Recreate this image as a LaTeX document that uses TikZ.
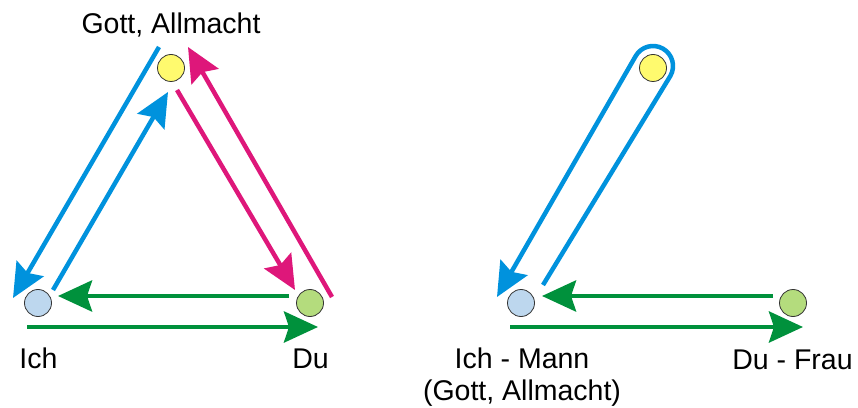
\documentclass[tikz,border=0pt]{standalone}
\usepackage{fontspec}
\setmainfont{Liberation Sans}
\usepackage{tikz}
\usetikzlibrary{arrows.meta,calc}
\usepackage{xcolor}
\definecolor{gottgelb}{RGB}{255,250,110}
\definecolor{ichblau}{RGB}{189,215,238}
\definecolor{dugruen}{RGB}{180,220,125}
\definecolor{pfeilblau}{RGB}{0,146,221}
\definecolor{pfeilrot}{RGB}{222,23,122}
\definecolor{pfeilgruen}{RGB}{0,145,60}
\tikzset{>={Stealth[length=34pt,width=31pt,inset=5pt]}}

\begin{document}
\begin{tikzpicture}[x=1pt, y=1pt]
                % left: triangle, right: Ich - Mann takes the place of Gott
                \tikzstyle{person}=[circle, draw=black!80, line width=0.8pt, minimum size=27pt, inner sep=0pt]
                \tikzstyle{lbl}=[font=\fontsize{28.5}{31.5}\selectfont, inner sep=0pt, anchor=base, align=center]
                \tikzstyle{blu}=[pfeilblau, line width=4.5pt, ->]
                \tikzstyle{rot}=[pfeilrot, line width=4.5pt, ->]
                \tikzstyle{gru}=[pfeilgruen, line width=4.5pt, ->]
                \useasboundingbox (0,0) rectangle (858,407);

                % left picture
                \node[person, fill=gottgelb] (G1) at (171, 339) {};
                \node[person, fill=ichblau] (I1) at (38, 104) {};
                \node[person, fill=dugruen] (D1) at (310, 104) {};
                \node[lbl] (G1txt) at (171, 373) {Gott, Allmacht};
                \node[lbl] (I1txt) at (38.5, 39) {Ich};
                \node[lbl] (D1txt) at (310.5, 39) {Du};

                \coordinate (bo1) at (159, 360);
                \coordinate (bo2) at (13, 109);
                \coordinate (bi1) at (53, 117);
                \coordinate (bi2) at (168, 315);
                \coordinate (ri1) at (177, 317);
                \coordinate (ri2) at (295, 117);
                \coordinate (ro1) at (332, 110);
                \coordinate (ro2) at (188, 360);
                \coordinate (gu1) at (289, 111);
                \coordinate (gu2) at (58, 111);
                \coordinate (gl1) at (27, 80);
                \coordinate (gl2) at (318, 80);
                \draw[blu] (bo1) -- (bo2);
                \draw[blu] (bi1) -- (bi2);
                \draw[rot] (ri1) -- (ri2);
                \draw[rot] (ro1) -- (ro2);
                \draw[gru] (gu1) -- (gu2);
                \draw[gru] (gl1) -- (gl2);

                % right picture
                \node[person, fill=gottgelb] (G2) at (653, 339) {};
                \node[person, fill=ichblau] (I2) at (521, 104) {};
                \node[person, fill=dugruen] (D2) at (793, 104) {};
                \node[lbl] (I2txt) at (522, 7) {Ich - Mann\\(Gott, Allmacht)};
                \node[lbl] (D2txt) at (792.5, 38) {Du - Frau};

                \coordinate (loop) at (653, 341);
                \coordinate (ls1) at (543, 122);
                \coordinate (ls2) at (497, 110);
                \coordinate (gu3) at (773, 111);
                \coordinate (gu4) at (542, 111);
                \coordinate (gl3) at (510, 80);
                \coordinate (gl4) at (803, 80);
                \draw[blu] (ls1) -- ($(loop)+(-29.7:20)$) arc[start angle=-29.7, end angle=150.3, radius=20] -- (ls2);
                \draw[gru] (gu3) -- (gu4);
                \draw[gru] (gl3) -- (gl4);
\end{tikzpicture}
\end{document}
